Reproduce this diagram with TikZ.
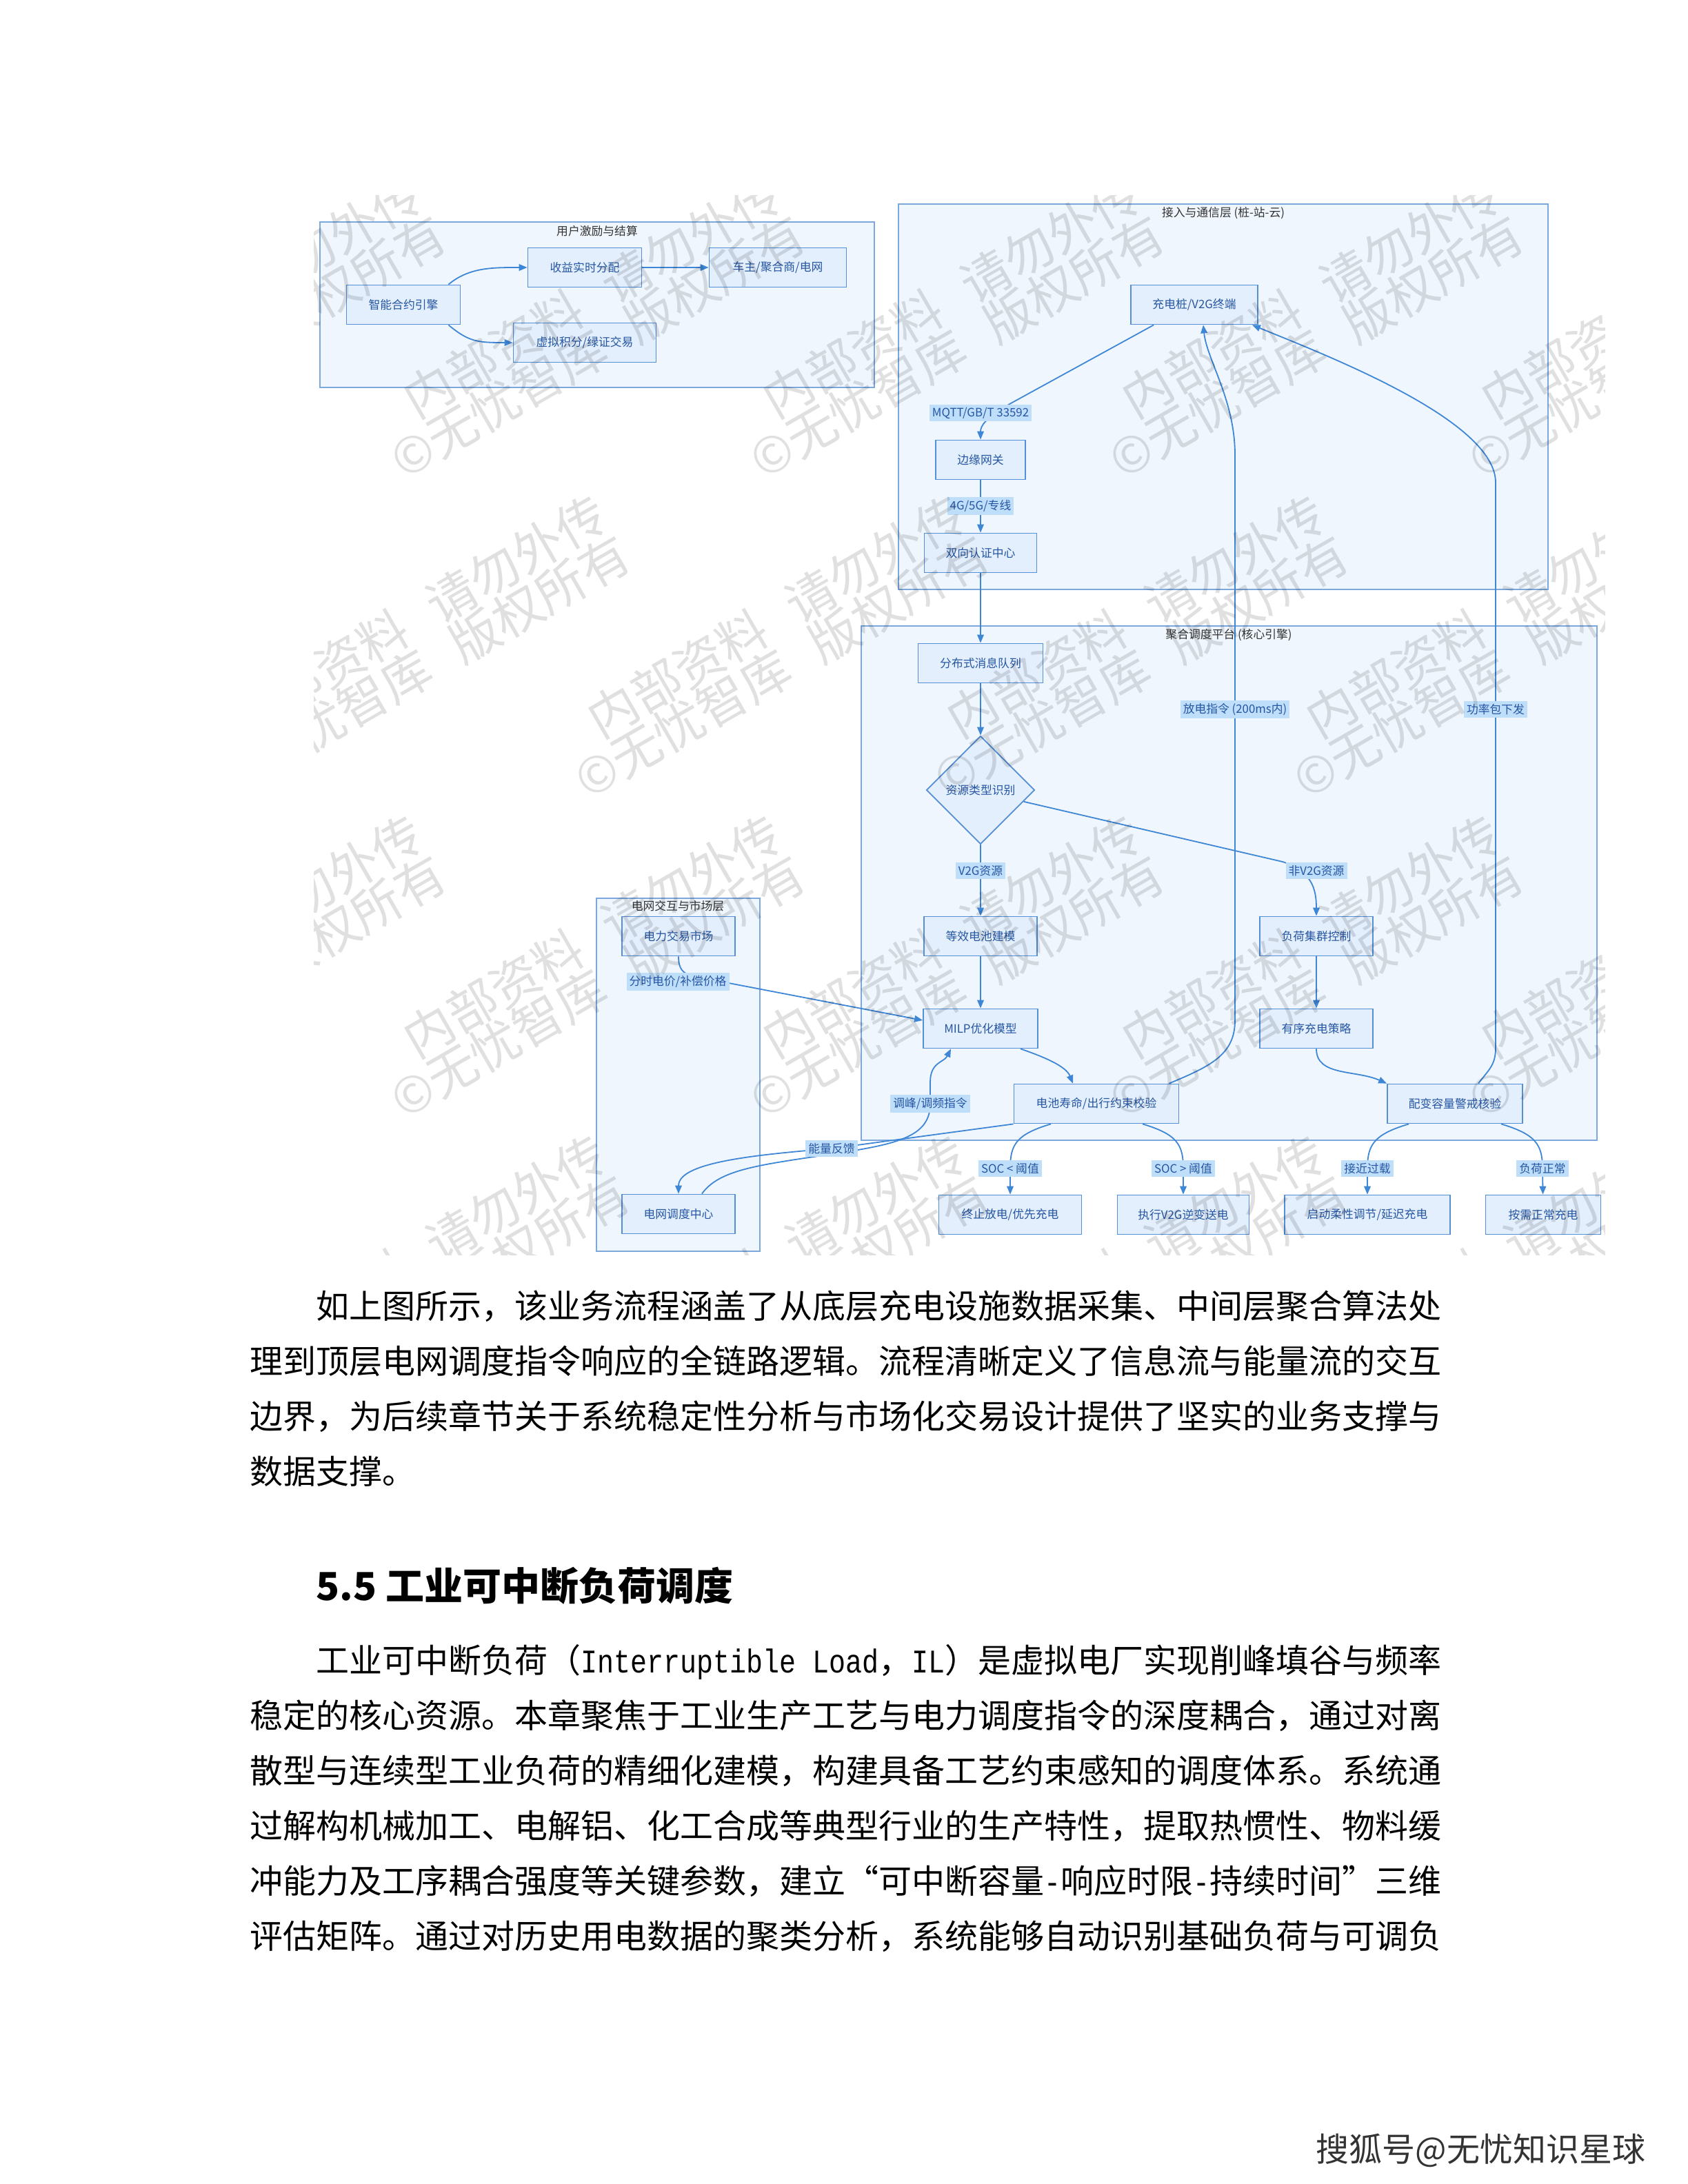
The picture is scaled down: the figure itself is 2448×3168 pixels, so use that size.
\documentclass[tikz,border=0pt]{standalone}
\usepackage{fontspec}
\setmainfont{Noto Sans CJK SC}
\newfontfamily\latinmono[FakeStretch=0.833]{Liberation Mono}
\usetikzlibrary{arrows.meta,shapes.geometric}

\definecolor{clusfill}{RGB}{239,246,253}
\definecolor{clusline}{RGB}{125,168,222}
\definecolor{boxfill}{RGB}{227,239,252}
\definecolor{boxline}{RGB}{84,143,215}
\definecolor{boxtext}{RGB}{38,86,163}
\definecolor{flowline}{RGB}{62,134,214}
\definecolor{labfill}{RGB}{190,222,250}

\newcommand\diafont{\fontsize{4.2}{5}\selectfont}
\newcommand\bodyfont{\fontsize{12}{20}\selectfont}

\pgfdeclarelayer{clus}
\pgfdeclarelayer{edge}
\pgfsetlayers{clus,edge,main}

\begin{document}
\begin{tikzpicture}[x=0.25pt,y=-0.25pt,
  proc/.style={draw=boxline,fill=boxfill,text=boxtext,line width=0.45pt,minimum width=#1,minimum height=14.25pt,inner sep=0pt,font=\diafont},
  decide/.style={diamond,draw=boxline,fill=boxfill,text=boxtext,line width=0.45pt,minimum width=39.25pt,minimum height=39.25pt,inner sep=0pt,font=\diafont},
  lab/.style={fill=labfill,text=boxtext,inner sep=1pt,font=\diafont},
  group/.style={draw=clusline,fill=clusfill,line width=0.5pt},
  ctitle/.style={text=black!80,font=\diafont,inner sep=0pt},
  flow/.style={->,>={Triangle[length=3pt,width=2.4pt]},draw=flowline,line width=0.45pt},
  wmark/.style={rotate=30,align=right,text=black,text opacity=0.12,font=\fontsize{18}{16.75}\selectfont,inner sep=0pt}]

\useasboundingbox (0,0) rectangle (2448,3168);

\begin{pgfonlayer}{clus}
\fill[white] (0,0) rectangle (2448,3168);
\draw[group] (464,322) rectangle (1268,562);
\draw[group] (1303,296) rectangle (2245,855);
\draw[group] (1249,908) rectangle (2316,1654);
\draw[group] (865,1303) rectangle (1102,1815);
\end{pgfonlayer}

\node[ctitle] (t_user) at (866,335) {用户激励与结算};
\node[ctitle] (t_acc) at (1774,309) {接入与通信层 (桩-站-云)};
\node[ctitle] (t_agg) at (1782,921) {聚合调度平台 (核心引擎)};
\node[ctitle] (t_grid) at (983,1314) {电网交互与市场层};

% user incentive
\node[proc=41.25pt] (eng) at (585,442) {智能合约引擎};
\node[proc=41.25pt] (rev) at (848,388) {收益实时分配};
\node[proc=49.75pt] (own) at (1128,388) {车主/聚合商/电网};
\node[proc=51.75pt] (vpp) at (848,497) {虚拟积分/绿证交易};

% access layer
\node[proc=46pt] (pile) at (1732,442) {充电桩/V2G终端};
\node[proc=32.5pt] (gw) at (1422,667) {边缘网关};
\node[proc=40.75pt] (auth) at (1422,802) {双向认证中心};

% aggregation platform
\node[proc=45.25pt] (mq) at (1422,962) {分布式消息队列};
\node[decide] (dia) at (1422,1146) {资源类型识别};
\node[proc=41pt] (ebm) at (1422,1358) {等效电池建模};
\node[proc=41.5pt] (milp) at (1422,1492) {MILP优化模型};
\node[proc=41pt] (lcc) at (1909,1358) {负荷集群控制};
\node[proc=41pt] (ocs) at (1909,1492) {有序充电策略};
\node[proc=59.75pt] (chk) at (1590,1601) {电池寿命/出行约束校验};
\node[proc=49pt] (cap) at (2110,1601) {配变容量警戒核验};

% grid and market
\node[proc=41pt] (mkt) at (984,1358) {电力交易市场};
\node[proc=41pt] (dsp) at (984,1761) {电网调度中心};

% results
\node[proc=51.75pt] (stop) at (1465,1762) {终止放电/优先充电};
\node[proc=47.75pt] (v2g) at (1716,1762) {执行V2G逆变送电};
\node[proc=60pt] (flex) at (1983,1762) {启动柔性调节/延迟充电};
\node[proc=41.75pt] (norm) at (2238,1762) {按需正常充电};

% edge labels
\node[lab] (mqtt) at (1422,599) {MQTT/GB/T 33592};
\node[lab] (lte) at (1422,734) {4G/5G/专线};
\node[lab] (dis) at (1791,1029) {放电指令 (200ms内)};
\node[lab] (pwr) at (2169,1029) {功率包下发};
\node[lab] (v2gr) at (1422,1263) {V2G资源};
\node[lab] (nonv) at (1909,1263) {非V2G资源};
\node[lab] (pric) at (983,1424) {分时电价/补偿价格};
\node[lab] (peak) at (1349,1601) {调峰/调频指令};
\node[lab] (ene) at (1206,1666) {能量反馈};
\node[lab] (socl) at (1465,1695) {SOC < 阈值};
\node[lab] (socg) at (1716,1695) {SOC > 阈值};
\node[lab] (near) at (1983,1695) {接近过载};
\node[lab] (okld) at (2237,1695) {负荷正常};

\begin{pgfonlayer}{edge}
\draw[flow] ([xshift=-4.5pt]eng.north east) .. controls +(30,-25) and +(-50,0) .. (rev.west);
\draw[flow] ([xshift=-4.5pt]eng.south east) .. controls +(30,25) and +(-50,0) .. (vpp.west);
\draw[flow] (rev) -- (own);

\draw[flow] ([xshift=8.5pt]pile.south west) -- (1466,585) .. controls (1428,607) and (1422,618) .. (gw.north);
\draw[flow] (gw) -- (auth);
\draw[flow] (auth) -- (mq);

\draw[flow] (mq) -- (dia);
\draw[flow] (dia) -- (ebm);
\draw[flow] (dia.-15) -- (1860,1250) .. controls (1903,1264) and (1909,1290) .. (lcc.north);
\draw[flow] (ebm) -- (milp);
\draw[flow] (lcc) -- (ocs);
\draw[flow] (mkt.south) .. controls +(0,18) and (990,1412) .. (1005,1416) -- ([yshift=3pt]milp.west);
\draw[flow] ([xshift=14.5pt]milp.south) .. controls +(35,12) and +(-10,-25) .. ([xshift=-8.5pt]chk.north);
\draw[flow] (ocs.south) .. controls +(0,40) and +(-45,-20) .. (cap.north west);
\draw[flow] ([xshift=-3.75pt]chk.north east) .. controls +(60,-25) and +(0,50) .. (1791,1480) -- (dis.center) -- (1791,660) .. controls +(0,-80) and +(5,50) .. ([xshift=3.25pt]pile.south);
\draw[flow] ([xshift=8.5pt]cap.north) .. controls +(15,-20) and +(0,25) .. (2169,1520) -- (pwr.center) -- (2169,700) .. controls +(0,-90) and +(110,45) .. ([xshift=-2.25pt]pile.south east);

\draw[flow] (chk.south west) -- (ene.center) .. controls (1080,1676) and (984,1688) .. (dsp.north);
\draw[flow] ([xshift=-12.25pt]dsp.north east) .. controls +(25,-35) and +(-100,15) .. (1200,1675) .. controls (1300,1660) and (1349,1650) .. (peak.center) -- (1349,1570) .. controls +(0,-30) and +(-10,20) .. ([xshift=-10.75pt]milp.south);

\draw[flow] ([xshift=-16.5pt]chk.south) .. controls +(-50,15) and +(0,-35) .. (socl.center) -- (stop);
\draw[flow] ([xshift=16.75pt]chk.south) .. controls +(50,15) and +(0,-35) .. (socg.center) -- (v2g);
\draw[flow] ([xshift=-16.75pt]cap.south) .. controls +(-50,15) and +(0,-35) .. (near.center) -- (flex);
\draw[flow] ([xshift=16.75pt]cap.south) .. controls +(50,15) and +(0,-35) .. (okld.center) -- (norm);
\end{pgfonlayer}

% watermark over the figure
\begin{scope}
\clip (455,283) rectangle (2327,1820);
\foreach \y/\xa in {474/329,938/75,1402/329,1866/75}{
  \foreach \k in {0,...,4}{
    \node[wmark] (wm-\y-\k) at (\xa+521*\k,\y) {内部资料\hspace{0.6em}请勿外传\\©无忧智库\hspace{0.6em}版权所有};
  }
}
\end{scope}

% text below the figure
\node[anchor=base west,inner sep=0pt,font=\bodyfont] (para1) at (362,1912) {\vtop{\hsize=450pt\parindent=0pt
\hspace*{24pt}如上图所示，该业务流程涵盖了从底层充电设施数据采集、中间层聚合算法处\par
理到顶层电网调度指令响应的全链路逻辑。流程清晰定义了信息流与能量流的交互\par
边界，为后续章节关于系统稳定性分析与市场化交易设计提供了坚实的业务支撑与\par
数据支撑。}};

\node[anchor=base west,inner sep=0pt,font=\fontsize{14}{16}\selectfont\bfseries] (sec) at (458,2321) {5.5 工业可中断负荷调度};

\node[anchor=base west,inner sep=0pt,font=\bodyfont] (para2) at (362,2426) {\vtop{\hsize=450pt\parindent=0pt
\hspace*{24pt}工业可中断负荷（{\latinmono Interruptible~Load}，{\latinmono IL}）是虚拟电厂实现削峰填谷与频率\par
稳定的核心资源。本章聚焦于工业生产工艺与电力调度指令的深度耦合，通过对离\par
散型与连续型工业负荷的精细化建模，构建具备工艺约束感知的调度体系。系统通\par
过解构机械加工、电解铝、化工合成等典型行业的生产特性，提取热惯性、物料缓\par
冲能力及工序耦合强度等关键参数，建立“可中断容量{\latinmono -}响应时限{\latinmono -}持续时间”三维\par
评估矩阵。通过对历史用电数据的聚类分析，系统能够自动识别基础负荷与可调负}};

\node[anchor=base west,inner sep=0pt,font=\fontsize{12}{14}\selectfont,text=black!80] (sohu) at (1908,3135) {搜狐号@无忧知识星球};

\end{tikzpicture}
\end{document}
